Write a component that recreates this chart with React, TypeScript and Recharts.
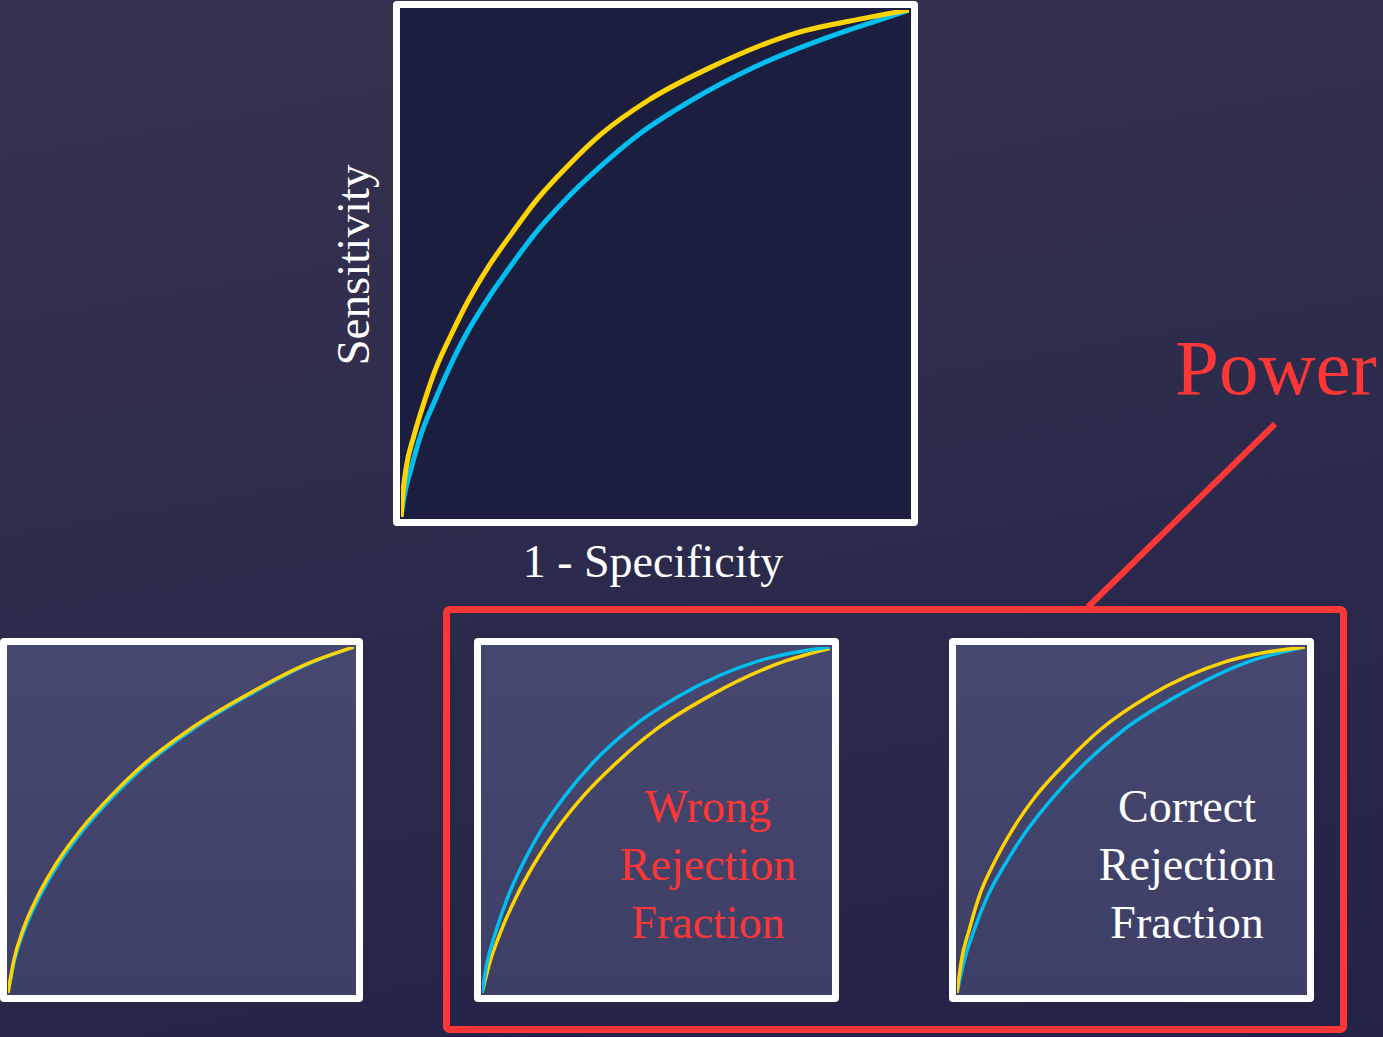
import React from "react";
import { LineChart, Line, XAxis, YAxis } from "recharts";

type Pt = [number, number];

// [1 - specificity, sensitivity]
const mainYellow: Pt[] = [[0, 0], [0.003, 0.04], [0.01, 0.096], [0.026, 0.162], [0.046, 0.228], [0.069, 0.294], [0.099, 0.36], [0.132, 0.426], [0.171, 0.492], [0.217, 0.558], [0.266, 0.624], [0.326, 0.69], [0.395, 0.756], [0.487, 0.822], [0.612, 0.888], [0.776, 0.954], [0.908, 0.983], [1, 1]];
const mainCyan: Pt[] = [[0, 0], [0.006, 0.04], [0.02, 0.096], [0.039, 0.162], [0.066, 0.228], [0.095, 0.294], [0.128, 0.36], [0.168, 0.426], [0.214, 0.492], [0.263, 0.558], [0.322, 0.624], [0.391, 0.69], [0.47, 0.756], [0.572, 0.822], [0.697, 0.888], [0.862, 0.954], [0.941, 0.98], [1, 1]];

const sameYellow: Pt[] = [[0, 0], [0.016, 0.091], [0.045, 0.187], [0.087, 0.282], [0.142, 0.378], [0.212, 0.474], [0.297, 0.569], [0.397, 0.665], [0.524, 0.761], [0.68, 0.856], [0.866, 0.952], [1, 1]];
const sameCyan: Pt[] = [[0, 0], [0.018, 0.091], [0.049, 0.187], [0.093, 0.282], [0.149, 0.378], [0.22, 0.474], [0.305, 0.569], [0.405, 0.665], [0.532, 0.761], [0.687, 0.856], [0.87, 0.952], [1, 1]];

const wrongCyan: Pt[] = [[0, 0], [0.0135, 0.083], [0.0405, 0.18], [0.074, 0.277], [0.118, 0.375], [0.171, 0.472], [0.238, 0.569], [0.32, 0.667], [0.426, 0.764], [0.571, 0.861], [0.793, 0.959], [1, 1]];
const wrongYellow: Pt[] = [[0, 0], [0.021, 0.083], [0.055, 0.18], [0.098, 0.277], [0.151, 0.375], [0.214, 0.472], [0.291, 0.569], [0.388, 0.667], [0.503, 0.764], [0.658, 0.861], [0.87, 0.959], [1, 0.996]];

const correctYellow: Pt[] = [[0, 0], [0.0115, 0.087], [0.0355, 0.184], [0.064, 0.28], [0.107, 0.377], [0.16, 0.473], [0.227, 0.57], [0.314, 0.667], [0.414, 0.763], [0.554, 0.86], [0.77, 0.957], [1, 1]];
const correctCyan: Pt[] = [[0, 0], [0.019, 0.087], [0.05, 0.184], [0.088, 0.28], [0.141, 0.377], [0.203, 0.473], [0.28, 0.57], [0.371, 0.667], [0.482, 0.763], [0.635, 0.86], [0.837, 0.957], [1, 1]];

const wrongLabel = ["Wrong", "Rejection", "Fraction"];
const correctLabel = ["Correct", "Rejection", "Fraction"];

const YELLOW = "#ffd400";
const CYAN = "#00bff0";
const RED = "#fd3636";
const SERIF = "'Liberation Serif', 'Times New Roman', serif";

const toRows = (pts: Pt[]) => pts.map(([x, y]) => ({ x, y }));

type Series = { pts: Pt[]; color: string };

function RocPanel(props: {
  left: number;
  top: number;
  w: number;
  h: number;
  border: number;
  fill: string;
  stroke: number;
  series: Series[];
}) {
  const { left, top, w, h, border, fill, stroke, series } = props;
  return (
    <div
      style={{
        position: "absolute",
        left,
        top,
        width: w,
        height: h,
        boxSizing: "border-box",
        border: `${border}px solid #fff`,
        borderRadius: 4,
        background: fill,
      }}
    >
      <LineChart width={w - 2 * border} height={h - 2 * border} margin={{ top: 2, right: 2, bottom: 2, left: 1 }}>
        <XAxis type="number" dataKey="x" domain={[0, 1]} hide allowDataOverflow />
        <YAxis type="number" dataKey="y" domain={[0, 1]} hide allowDataOverflow />
        {series.map((s, i) => (
          <Line
            key={i}
            data={toRows(s.pts)}
            dataKey="y"
            type="monotone"
            stroke={s.color}
            strokeWidth={stroke}
            dot={false}
            activeDot={false}
            isAnimationActive={false}
          />
        ))}
      </LineChart>
    </div>
  );
}

const bottomFill = "linear-gradient(to bottom, #47486f, #3d3f67)";

export default function App() {
  return (
    <div
      style={{
        position: "absolute",
        left: 0,
        top: 0,
        width: 1383,
        height: 1037,
        overflow: "hidden",
        background: "linear-gradient(170deg, #37324f 0%, #2e2c4d 45%, #232247 100%)",
      }}
    >
      <RocPanel left={393} top={1} w={525} h={525} border={7} fill="#1c1e3f" stroke={5}
        series={[{ pts: mainCyan, color: CYAN }, { pts: mainYellow, color: YELLOW }]} />
      <RocPanel left={0} top={638} w={363} h={364} border={7} fill={bottomFill} stroke={3.5}
        series={[{ pts: sameCyan, color: CYAN }, { pts: sameYellow, color: YELLOW }]} />
      <RocPanel left={474} top={638} w={365} h={364} border={7} fill={bottomFill} stroke={3.5}
        series={[{ pts: wrongYellow, color: YELLOW }, { pts: wrongCyan, color: CYAN }]} />
      <RocPanel left={949} top={638} w={365} h={364} border={7} fill={bottomFill} stroke={3.5}
        series={[{ pts: correctCyan, color: CYAN }, { pts: correctYellow, color: YELLOW }]} />

      <svg width={1383} height={1037} style={{ position: "absolute", left: 0, top: 0, pointerEvents: "none" }}>
        <g fontFamily={SERIF}>
          <text x={653} y={577} fontSize={46} fill="#fff" textAnchor="middle">1 - Specificity</text>
          <text transform="translate(369,265) rotate(-90)" fontSize={47} fill="#fff" textAnchor="middle">Sensitivity</text>
          <text x={1175} y={394} fontSize={79} fill={RED}>Power</text>
          {wrongLabel.map((t, i) => (
            <text key={t} x={708} y={822 + i * 58} fontSize={46} fill={RED} textAnchor="middle">{t}</text>
          ))}
          {correctLabel.map((t, i) => (
            <text key={t} x={1187} y={822 + i * 58} fontSize={46} fill="#fff" textAnchor="middle">{t}</text>
          ))}
        </g>
        <rect x={446.5} y={609.5} width={897} height={420} rx={3} fill="none" stroke={RED} strokeWidth={7} />
        <line x1={1275} y1={424} x2={1088} y2={607} stroke={RED} strokeWidth={6} />
      </svg>
    </div>
  );
}
